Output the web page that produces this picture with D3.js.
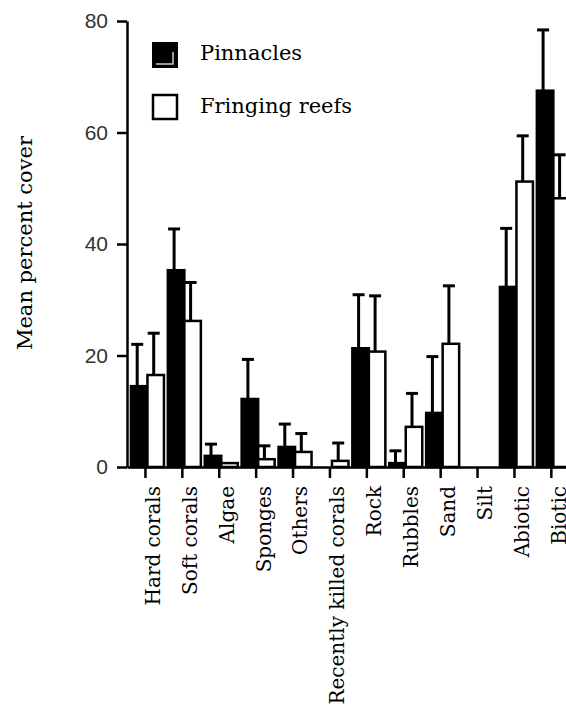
<!DOCTYPE html>
<html>
<head>
<meta charset="utf-8">
<script src="https://cdn.jsdelivr.net/npm/d3@7"></script>
<style>
  body { margin: 0; background: #fff; }
  svg { display: block; }
</style>
</head>
<body>
<div id="chart"></div>
<script>
// datos
const categories = ["Hard corals", "Soft corals", "Algae", "Sponges", "Others", "Recently killed corals",
  "Rock", "Rubbles", "Sand", "Silt", "Abiotic", "Biotic"];
const seriesNames = ["Pinnacles", "Fringing reefs"];
const pinnacles = [14.5, 35.3, 2.0, 12.2, 3.6, 0, 21.3, 0.7, 9.7, 0, 32.3, 67.5];
const pinnaclesErr = [7.5, 7.4, 2.1, 7.1, 4.1, 0, 9.6, 2.2, 10.1, 0, 10.5, 10.9];
const fringing = [16.5, 26.2, 0.7, 1.4, 2.7, 1.1, 20.7, 7.2, 22.1, 0, 51.2, 48.2];
const fringingErr = [7.5, 6.9, 0, 2.4, 3.3, 3.2, 10.0, 6.0, 10.4, 0, 8.2, 7.8];
const yTicks = [0, 20, 40, 60, 80];

const totalWidth = 566;
const totalHeight = 710;
const margin = { top: 21, left: 127 };
const plotHeight = 446;
const step = 36.9;

const svg = d3.select("#chart")
  .append("svg")
  .attr("width", totalWidth)
  .attr("height", totalHeight);

const g = svg.append("g")
  .attr("transform", `translate(${margin.left}, ${margin.top})`);

// escalas
const x = d3.scaleBand().domain(categories).range([0, categories.length * step]).padding(0);
const x1 = d3.scaleBand().domain(seriesNames)
  .range([x.bandwidth() / 2 - 14.5, x.bandwidth() / 2 + 18.5]);
const y = d3.scaleLinear().domain([0, 80]).range([plotHeight, 0]);

const color = d3.scaleOrdinal().domain(seriesNames).range(["#000", "#fff"]);

// tabla para las barras
const data = [];
categories.forEach((c, i) => {
  data.push({ cat: c, serie: seriesNames[0], value: pinnacles[i], err: pinnaclesErr[i] });
  data.push({ cat: c, serie: seriesNames[1], value: fringing[i], err: fringingErr[i] });
});

// barras
g.selectAll("rect.bar")
  .data(data)
  .enter()
  .append("rect")
  .attr("class", "bar")
  .attr("x", (d) => x(d.cat) + x1(d.serie))
  .attr("y", (d) => y(d.value))
  .attr("width", x1.bandwidth())
  .attr("height", (d) => plotHeight - y(d.value))
  .attr("fill", (d) => color(d.serie))
  .attr("stroke", "#000")
  .attr("stroke-width", 2.5);

// barras de error (solo hacia arriba)
const errData = data.filter((d) => d.err > 0);
const errX = (d) => x(d.cat) + x1(d.serie) + x1.bandwidth() / 2 - 2;

g.selectAll("line.stem")
  .data(errData)
  .enter()
  .append("line")
  .attr("x1", errX)
  .attr("x2", errX)
  .attr("y1", (d) => y(d.value))
  .attr("y2", (d) => y(d.value + d.err))
  .attr("stroke", "#000")
  .attr("stroke-width", 3);

g.selectAll("line.cap")
  .data(errData)
  .enter()
  .append("line")
  .attr("x1", (d) => errX(d) - 6)
  .attr("x2", (d) => errX(d) + 6)
  .attr("y1", (d) => y(d.value + d.err))
  .attr("y2", (d) => y(d.value + d.err))
  .attr("stroke", "#000")
  .attr("stroke-width", 3);

// eje y
const yAxis = g.append("g")
  .call(d3.axisLeft(y).tickValues(yTicks).tickSize(10).tickSizeOuter(0).tickPadding(9));
yAxis.select(".domain").attr("stroke-width", 2.5);
yAxis.selectAll(".tick line").attr("stroke-width", 2.5);
yAxis.selectAll(".tick text")
  .attr("font-family", "'Liberation Sans', Arial, sans-serif")
  .attr("font-size", 21)
  .attr("fill", "#333");

// eje x
const xAxis = g.append("g")
  .attr("transform", `translate(0, ${plotHeight})`)
  .call(d3.axisBottom(x).tickSize(11).tickSizeOuter(0));
xAxis.select(".domain").attr("stroke-width", 2.5);
xAxis.selectAll(".tick line").attr("stroke-width", 2.5);
xAxis.selectAll(".tick text")
  .attr("font-family", "'DejaVu Serif', serif")
  .attr("font-size", 20)
  .attr("fill", "#000")
  .attr("text-anchor", "end")
  .attr("transform", "translate(0, 19) rotate(-90)")
  .attr("x", 0)
  .attr("y", 0)
  .attr("dy", "0.72em");

// titulo eje y
svg.append("text")
  .attr("transform", "translate(32, 243) rotate(-90)")
  .attr("text-anchor", "middle")
  .attr("font-family", "'DejaVu Serif', serif")
  .attr("font-size", 21)
  .text("Mean percent cover");

// leyenda
const legend = svg.append("g");
legend.append("rect")
  .attr("x", 153).attr("y", 43).attr("width", 24).attr("height", 24)
  .attr("fill", color(seriesNames[0])).attr("stroke", "#000").attr("stroke-width", 2);
legend.append("polyline")
  .attr("points", "173,52 173,64 156,64")
  .attr("fill", "none").attr("stroke", "#ccc").attr("stroke-width", 1.5);
legend.append("rect")
  .attr("x", 153).attr("y", 95).attr("width", 24).attr("height", 24)
  .attr("fill", color(seriesNames[1])).attr("stroke", "#000").attr("stroke-width", 2.5);

legend.selectAll("text")
  .data(seriesNames)
  .enter()
  .append("text")
  .attr("x", 200)
  .attr("y", (d, i) => 60 + i * 53)
  .attr("font-family", "'DejaVu Serif', serif")
  .attr("font-size", 21)
  .text((d) => d);
</script>
</body>
</html>
